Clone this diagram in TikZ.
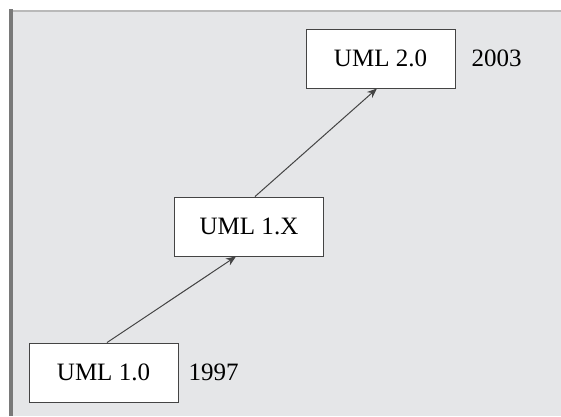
\documentclass[tikz,border=0pt]{standalone}
\usepackage{fontspec}
\setmainfont{Liberation Serif}
\usepackage{tikz}
\usetikzlibrary{arrows.meta}
\definecolor{panelgray}{HTML}{E5E6E8}
\definecolor{edgegray}{HTML}{444444}
\tikzset{
	version/.style={draw=edgegray, line width=0.9pt, fill=white, minimum width=149pt,
		minimum height=59pt, inner sep=0pt, font=\fontsize{25}{29}\selectfont},
	year/.style={anchor=west, inner sep=0pt, font=\fontsize{25}{29}\selectfont},
	evolve/.style={draw=edgegray, line width=1pt, -{Stealth[length=10pt,width=8pt]}}
}

\begin{document}
\begin{tikzpicture}[x=1pt,y=-1pt]
	\useasboundingbox (0,0) rectangle (561,416);
	% panel
	\fill[panelgray] (11,11) rectangle (561,416);
	\draw[gray!55, line width=1.5pt] (11,11) -- (561,11);
	\draw[gray!95!black, line width=4pt] (11,9) -- (11,416);

	% versions
	\node[version] (v20) at (380.5,58.5) {UML 2.0};
	\node[version] (v1x) at (249,226.5) {UML 1.X};
	\node[version] (v10) at (103.5,372.5) {UML 1.0};
	\node[year] (y20) at ([xshift=16pt]v20.east) {2003};
	\node[year] (y10) at ([xshift=10pt]v10.east) {1997};

	% arrows
	\draw[evolve] ([xshift=3.5pt]v10.north) -- ([xshift=-13pt]v1x.south);
	\draw[evolve] ([xshift=6pt]v1x.north) -- ([xshift=-3.5pt]v20.south);
\end{tikzpicture}
\end{document}
